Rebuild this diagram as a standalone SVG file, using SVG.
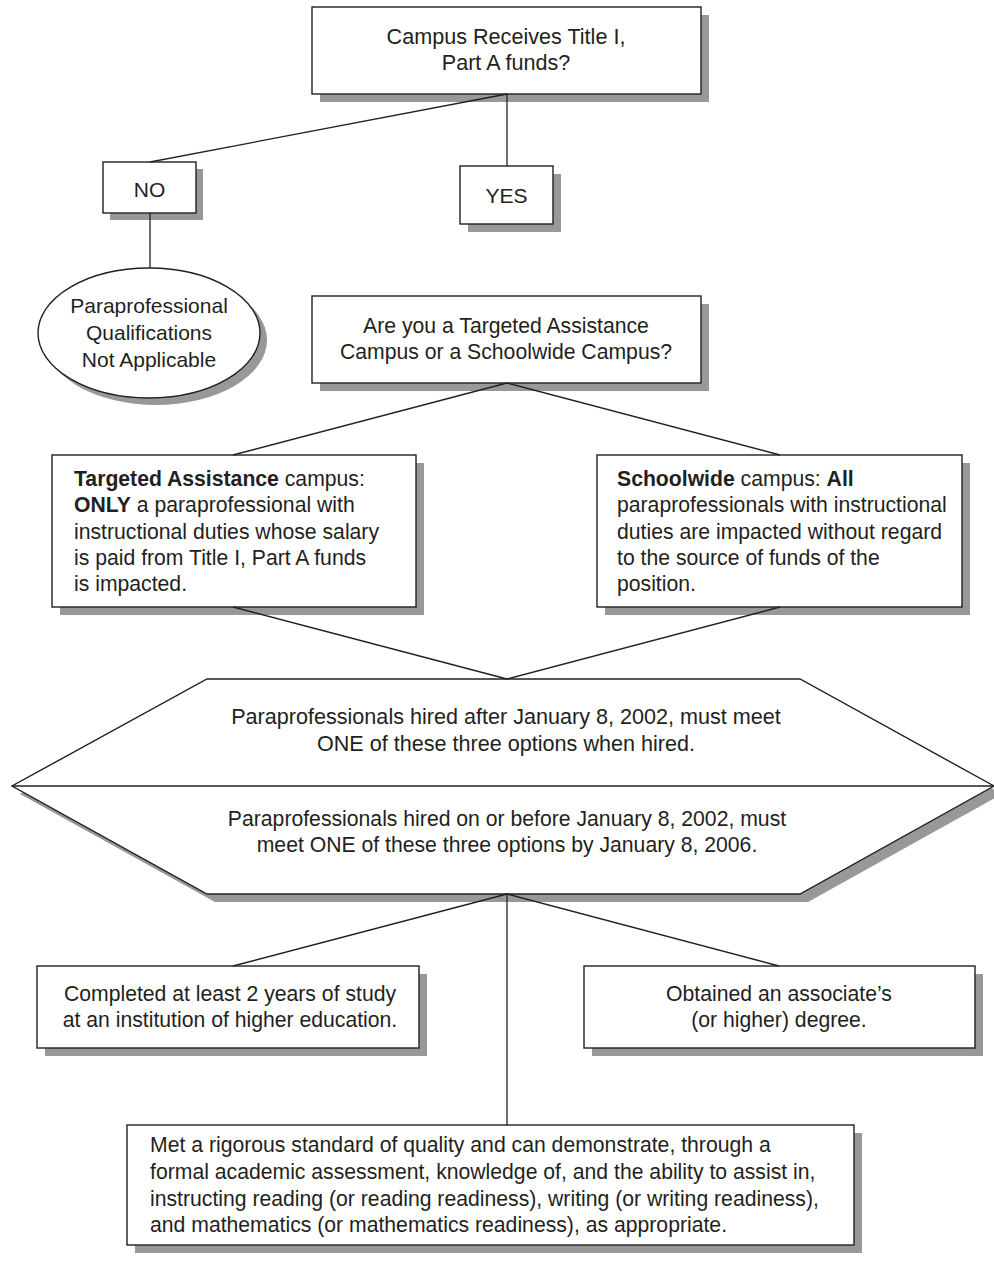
<svg xmlns="http://www.w3.org/2000/svg" width="994" height="1262" viewBox="0 0 994 1262">
  <style>
    .box { fill: #ffffff; stroke: #231f20; stroke-width: 1.4; }
    .shadow { fill: #98989b; }
    .conn { stroke: #231f20; stroke-width: 1.3; fill: none; }
    text { font-family: "Liberation Sans", Arial, Helvetica, sans-serif; font-size: 21.2px; fill: #231f20; }
    .c { text-anchor: middle; }
    .b { font-weight: bold; }
    .lg { font-size: 21.6px; }
    .sm { font-size: 21px; }
  </style>

  <rect width="994" height="1262" fill="#ffffff"/>

  <!-- Title I question -->
  <g id="q-title1">
    <rect class="shadow" x="320" y="15" width="389" height="87"/>
    <rect class="box" x="312" y="7" width="389" height="87"/>
    <text class="c lg" x="506" y="44">Campus Receives Title I,</text>
    <text class="c lg" x="506" y="70">Part A funds?</text>
  </g>

  <g id="no">
    <rect class="shadow" x="110" y="169" width="93" height="51"/>
    <rect class="box" x="103" y="162" width="93" height="51"/>
    <text class="c sm" x="149.5" y="197">NO</text>
  </g>

  <g id="yes">
    <rect class="shadow" x="468" y="174" width="93" height="58"/>
    <rect class="box" x="460" y="166" width="93" height="58"/>
    <text class="c sm" x="506.5" y="203">YES</text>
  </g>

  <g id="not-applicable">
    <ellipse class="shadow" cx="156" cy="340" rx="111" ry="65"/>
    <ellipse class="box" cx="149" cy="333" rx="111" ry="65"/>
    <text class="c sm" x="149" y="313">Paraprofessional</text>
    <text class="c sm" x="149" y="340">Qualifications</text>
    <text class="c sm" x="149" y="367">Not Applicable</text>
  </g>

  <g id="q-campus-type">
    <rect class="shadow" x="320" y="304" width="389" height="87"/>
    <rect class="box" x="312" y="296" width="389" height="87"/>
    <text class="c" x="506" y="333">Are you a Targeted Assistance</text>
    <text class="c" x="506" y="359">Campus or a Schoolwide Campus?</text>
  </g>

  <g id="targeted-assistance">
    <rect class="shadow" x="60" y="463" width="364" height="152"/>
    <rect class="box" x="52" y="455" width="364" height="152"/>
    <text x="74" y="486"><tspan class="b">Targeted Assistance</tspan> campus:</text>
    <text x="74" y="512"><tspan class="b">ONLY</tspan> a paraprofessional with</text>
    <text x="74" y="539">instructional duties whose salary</text>
    <text x="74" y="565">is paid from Title I, Part A funds</text>
    <text x="74" y="591">is impacted.</text>
  </g>

  <g id="schoolwide">
    <rect class="shadow" x="605" y="463" width="365" height="152"/>
    <rect class="box" x="597" y="455" width="365" height="152"/>
    <text x="617" y="486"><tspan class="b">Schoolwide</tspan> campus: <tspan class="b">All</tspan></text>
    <text x="617" y="512">paraprofessionals with instructional</text>
    <text x="617" y="539">duties are impacted without regard</text>
    <text x="617" y="565">to the source of funds of the</text>
    <text x="617" y="591">position.</text>
  </g>

  <g id="hire-dates">
    <polygon class="shadow" points="215,687 808,687 1002,794 808,902 215,902 20,794"/>
    <polygon class="box" points="207,679 800,679 994,786 800,894 207,894 12,786"/>
    <line class="conn" x1="12" y1="786" x2="994" y2="786"/>
    <text class="c lg" x="506" y="724">Paraprofessionals hired after January 8, 2002, must meet</text>
    <text class="c lg" x="506" y="751">ONE of these three options when hired.</text>
    <text class="c" x="507" y="826">Paraprofessionals hired on or before January 8, 2002, must</text>
    <text class="c" x="507" y="852">meet ONE of these three options by January 8, 2006.</text>
  </g>

  <g id="option-study">
    <rect class="shadow" x="45" y="974" width="382" height="82"/>
    <rect class="box" x="37" y="966" width="382" height="82"/>
    <text class="c" x="230" y="1001">Completed at least 2 years of study</text>
    <text class="c" x="230" y="1027">at an institution of higher education.</text>
  </g>

  <g id="option-degree">
    <rect class="shadow" x="592" y="974" width="391" height="82"/>
    <rect class="box" x="584" y="966" width="391" height="82"/>
    <text class="c" x="779" y="1001">Obtained an associate’s</text>
    <text class="c" x="779" y="1027">(or higher) degree.</text>
  </g>

  <g id="option-assessment">
    <rect class="shadow" x="135" y="1133" width="727" height="120"/>
    <rect class="box" x="127" y="1125" width="727" height="120"/>
    <text x="150" y="1152">Met a rigorous standard of quality and can demonstrate, through a</text>
    <text x="150" y="1179">formal academic assessment, knowledge of, and the ability to assist in,</text>
    <text x="150" y="1206">instructing reading (or reading readiness), writing (or writing readiness),</text>
    <text x="150" y="1232">and mathematics (or mathematics readiness), as appropriate.</text>
  </g>

  <!-- connectors, drawn over the drop shadows -->
  <g id="connectors">
    <line class="conn" x1="507" y1="94" x2="507" y2="166"/>
    <line class="conn" x1="507" y1="94" x2="150" y2="162"/>
    <line class="conn" x1="150" y1="213" x2="150" y2="268"/>
    <line class="conn" x1="507" y1="383" x2="233" y2="455"/>
    <line class="conn" x1="507" y1="383" x2="780" y2="455"/>
    <line class="conn" x1="233" y1="607" x2="507" y2="679"/>
    <line class="conn" x1="780" y1="607" x2="507" y2="679"/>
    <line class="conn" x1="507" y1="894" x2="233" y2="966"/>
    <line class="conn" x1="507" y1="894" x2="779" y2="966"/>
    <line class="conn" x1="507" y1="894" x2="507" y2="1125"/>
  </g>
</svg>
